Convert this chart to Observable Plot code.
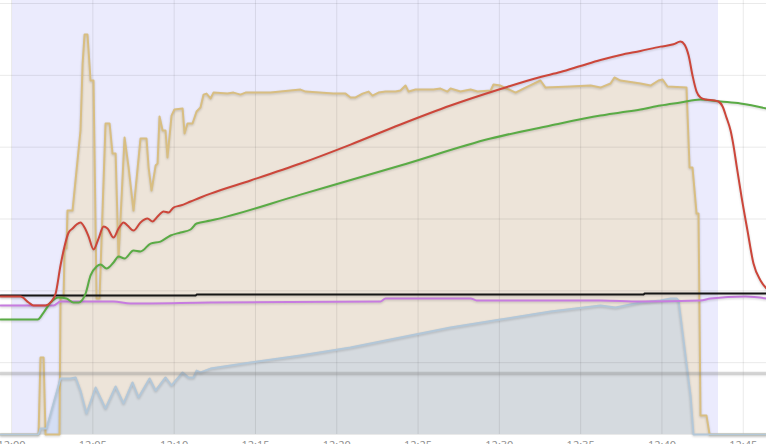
<!DOCTYPE html>
<html>
<head>
<meta charset="utf-8">
<script src="https://cdn.jsdelivr.net/npm/d3@7"></script>
<script src="https://cdn.jsdelivr.net/npm/@observablehq/plot@0.6"></script>
<style>
  html, body { margin: 0; padding: 0; background: #fff; overflow: hidden; }
  #chart svg { display: block; }
  #chart g[aria-label="line"] path { filter: drop-shadow(0px 1px 1px rgba(0,0,0,0.18)); }
</style>
</head>
<body>
<div id="chart"></div>
<script>
// time axis: minutes after 12:00
const xTicks = [0, 5, 10, 15, 20, 25, 30, 35, 40, 45];
const xTickLabels = ["12:00", "12:05", "12:10", "12:15", "12:20", "12:25", "12:30", "12:35", "12:40", "12:45"];
const yGrid = [0, 50, 100, 150, 200, 250, 300];

// roast window (shaded band)
const roastStart = 0.06;
const roastEnd = 43.48;

// tan series (power)
const tanMin = [-0.68, 1.66, 1.78, 1.97, 2.09, 2.95, 3.01, 3.20, 3.26, 3.38, 3.44, 3.75, 4.24, 4.37, 4.49, 4.67, 4.86, 5.04, 5.23, 5.41, 5.78, 6.03, 6.21, 6.40, 6.58, 6.95, 7.20, 7.50, 7.93, 8.30, 8.43, 8.61, 8.86, 8.98, 9.10, 9.29, 9.47, 9.59, 9.84, 10.02, 10.52, 10.64, 10.82, 11.13, 11.38, 11.62, 11.81, 11.99, 12.24, 12.42, 13.28, 13.65, 14.08, 14.39, 15.01, 15.93, 16.54, 17.77, 18.08, 19.80, 20.54, 20.85, 21.16, 21.59, 21.96, 22.20, 22.57, 23.00, 23.62, 23.92, 24.23, 24.42, 24.85, 25.95, 26.38, 26.81, 27.00, 27.61, 28.23, 28.66, 29.46, 29.64, 30.07, 31.00, 31.61, 32.53, 32.84, 34.38, 35.61, 36.22, 36.84, 37.08, 37.45, 38.68, 39.30, 39.79, 40.04, 40.34, 41.51, 41.70, 41.88, 42.13, 42.25, 42.37, 42.74, 42.93, 46.43];
const tanVal = [0, 0, 53.6, 53.6, 0, 0, 96.1, 96.1, 129.5, 129.5, 155.9, 155.9, 211.6, 258.2, 278.4, 278.4, 246.4, 246.4, 94.7, 94.7, 216.5, 216.5, 195.6, 195.6, 123.2, 206.7, 185.8, 155.9, 206.0, 206.0, 185.8, 169.8, 187.2, 188.6, 221.3, 211.6, 211.6, 192.8, 222.0, 226.2, 226.9, 209.5, 216.5, 216.5, 224.8, 227.6, 236.6, 237.3, 233.9, 238.0, 237.3, 238.0, 236.6, 238.0, 238.0, 238.0, 238.7, 240.1, 238.7, 237.3, 237.3, 234.6, 234.6, 237.3, 238.7, 235.9, 238.0, 238.7, 238.7, 239.4, 242.9, 238.7, 240.1, 240.1, 240.8, 238.7, 240.8, 238.7, 240.1, 238.7, 239.4, 243.6, 242.9, 238.0, 241.5, 246.4, 241.5, 242.2, 242.9, 241.5, 244.3, 248.5, 246.4, 244.3, 242.9, 246.4, 247.1, 242.2, 241.5, 185.8, 185.8, 153.8, 153.8, 13.2, 13.2, 0, 0];

// grey-blue series (fan / airflow)
const blueMin = [-0.68, 1.66, 1.78, 2.15, 3.01, 3.63, 3.94, 4.24, 4.61, 5.17, 5.78, 6.40, 6.89, 7.44, 7.81, 8.49, 8.86, 9.47, 9.84, 10.52, 10.89, 11.19, 11.38, 11.62, 12.24, 14.70, 17.77, 20.85, 23.92, 27.00, 30.07, 33.15, 36.22, 37.15, 38.68, 39.91, 40.53, 40.90, 41.02, 41.76, 41.94, 46.43];
const blueVal = [0, 0, 4.2, 4.2, 39.0, 39.0, 39.7, 30.6, 14.6, 32.7, 18.1, 33.4, 21.6, 36.2, 25.8, 39.0, 30.6, 39.7, 34.1, 43.2, 39.7, 39.7, 44.5, 43.2, 45.9, 50.1, 55.0, 60.6, 67.5, 74.5, 80.0, 85.6, 89.8, 88.4, 91.9, 93.3, 94.7, 94.7, 93.3, 27.1, 0, 0];

// red series (bean temperature)
const redMin = [-0.68, 0.55, 1.05, 1.35, 2.09, 2.40, 2.71, 3.01, 3.20, 3.51, 3.75, 4.00, 4.24, 4.49, 4.74, 5.04, 5.35, 5.66, 5.90, 6.27, 6.58, 6.89, 7.13, 7.50, 7.93, 8.36, 8.67, 8.98, 9.35, 9.66, 9.96, 10.39, 11.01, 11.62, 12.24, 14.70, 17.77, 20.85, 23.92, 27.00, 30.07, 32.53, 33.76, 34.99, 36.22, 37.45, 38.68, 39.91, 40.71, 41.14, 41.39, 41.64, 41.88, 42.13, 42.37, 42.68, 43.24, 43.48, 43.73, 43.97, 44.22, 44.40, 44.59, 44.90, 45.26, 45.63, 46.06, 46.43];
const redVal = [96.0, 96.0, 91.9, 89.8, 89.8, 91.9, 98.1, 117.6, 128.1, 140.6, 143.4, 146.2, 147.6, 144.1, 137.8, 128.8, 136.4, 144.8, 143.4, 137.1, 143.4, 147.6, 145.5, 142.0, 147.6, 150.3, 148.2, 151.7, 155.2, 154.5, 158.0, 159.4, 162.2, 165.0, 167.7, 176.8, 188.6, 201.8, 215.8, 229.0, 240.5, 248.9, 252.3, 256.5, 260.7, 264.2, 267.0, 270.0, 271.6, 273.5, 271.4, 263.8, 249.9, 238.7, 234.6, 233.2, 232.5, 231.8, 228.3, 220.6, 211.6, 201.1, 187.2, 165.0, 142.0, 119.0, 107.2, 101.6];

// green series (environment temperature)
const greenMin = [-0.68, 1.60, 1.97, 2.40, 2.89, 3.38, 3.81, 4.12, 4.55, 4.86, 5.23, 5.47, 5.84, 6.27, 6.58, 6.95, 7.50, 7.93, 8.55, 9.16, 9.78, 10.39, 11.01, 11.38, 12.24, 17.77, 23.92, 29.46, 33.15, 36.22, 37.45, 38.68, 39.91, 41.14, 42.37, 43.60, 44.83, 46.43];
const greenVal = [80.0, 80.0, 84.9, 91.9, 95.4, 94.7, 91.9, 91.9, 98.1, 110.7, 116.9, 118.3, 115.5, 119.7, 123.9, 122.5, 128.1, 127.4, 132.9, 134.3, 138.5, 140.6, 142.7, 146.9, 148.9, 167.0, 187.2, 206.0, 215.1, 222.0, 224.1, 226.2, 229.0, 231.1, 233.2, 231.8, 230.4, 226.9];

// purple series
const purpleMin = [-0.68, 2.58, 3.01, 6.27, 7.32, 12.24, 22.69, 23.00, 28.23, 28.60, 36.22, 38.68, 42.37, 42.99, 45.14, 46.43];
const purpleVal = [89.8, 89.8, 92.6, 92.6, 91.2, 91.9, 92.6, 94.7, 94.7, 93.3, 93.3, 92.6, 93.3, 94.7, 96.0, 94.7];

// black series
const blackMin = [-0.68, 11.32, 11.38, 38.87, 38.93, 46.43];
const blackVal = [96.7, 96.7, 97.4, 97.4, 98.1, 98.1];

// grey reference level
const greyMin = [-0.68, 46.43];
const greyVal = [42.5, 42.5];

const toRows = (ms, vs) => ms.map((m, i) => ({m, v: vs[i]}));
const tan = toRows(tanMin, tanVal);
const blue = toRows(blueMin, blueVal);
const red = toRows(redMin, redVal);
const green = toRows(greenMin, greenVal);
const purple = toRows(purpleMin, purpleVal);
const black = toRows(blackMin, blackVal);
const grey = toRows(greyMin, greyVal);
const band = [{start: roastStart, end: roastEnd}];

const chart = Plot.plot({
  width: 766,
  height: 460,
  marginTop: 0,
  marginBottom: 26,
  marginLeft: 0,
  marginRight: 0,
  style: {background: "#fff", fontFamily: "'Open Sans', Lato, sans-serif", fontSize: "11px"},
  x: {domain: [-0.68, 46.43], axis: null},
  y: {domain: [0, 302.1], axis: null},
  marks: [
    Plot.rect(band, {x1: "start", x2: "end", fill: "#ebebfd"}),
    Plot.areaY(tan, {x: "m", y: "v", fill: "#ede4d9"}),
    Plot.areaY(blue, {x: "m", y: "v", fill: "rgba(180,205,232,0.42)"}),
    Plot.gridX(xTicks, {stroke: "#000", strokeOpacity: 0.085}),
    Plot.gridY(yGrid, {stroke: "#000", strokeOpacity: 0.085}),
    Plot.lineY(tan, {x: "m", y: "v", stroke: "#d8be82", strokeWidth: 2}),
    Plot.lineY(blue, {x: "m", y: "v", stroke: "#b3c7d8", strokeWidth: 2}),
    Plot.lineY(grey, {x: "m", y: "v", stroke: "#8c8c8c", strokeOpacity: 0.33, strokeWidth: 3.5}),
    Plot.lineY(purple, {x: "m", y: "v", stroke: "#c77ce0", strokeWidth: 2, curve: "monotone-x"}),
    Plot.lineY(black, {x: "m", y: "v", stroke: "#151515", strokeWidth: 2}),
    Plot.lineY(green, {x: "m", y: "v", stroke: "#5aab45", strokeWidth: 2, curve: "monotone-x"}),
    Plot.lineY(red, {x: "m", y: "v", stroke: "#cc463a", strokeWidth: 2, curve: "monotone-x"}),
    Plot.axisX(xTicks, {
      tickSize: 0,
      tickPadding: 7,
      tickFormat: d => xTickLabels[xTicks.indexOf(d)],
      fill: "#8c8c8c"
    })
  ]
});
document.getElementById("chart").appendChild(chart);
</script>
</body>
</html>
